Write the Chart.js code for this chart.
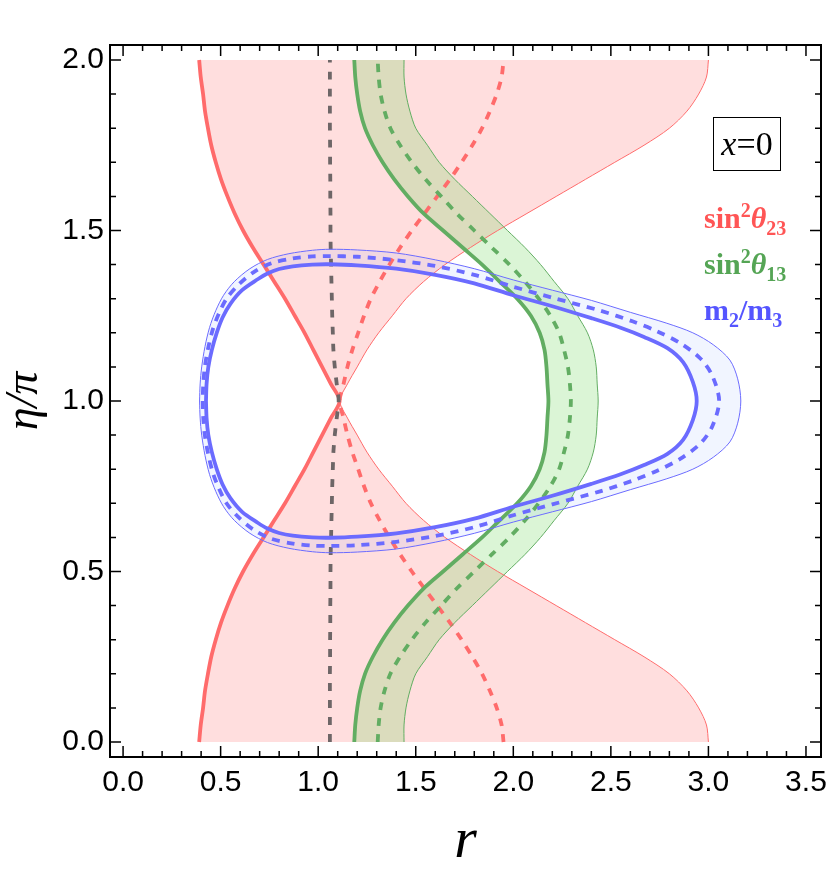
<!DOCTYPE html>
<html><head><meta charset="utf-8">
<script src="https://cdn.jsdelivr.net/npm/chart.js@4.4.0/dist/chart.umd.min.js"></script>
<style>
html,body{margin:0;padding:0;background:#fff;}
#wrap{position:relative;width:838px;height:880px;overflow:hidden;}
#c{position:absolute;left:0;top:0;}
.lab{position:absolute;left:704px;font-family:'Liberation Serif','Times New Roman',serif;font-weight:bold;font-size:30px;line-height:30px;white-space:nowrap;}
.lab sup,.lab sub{font-size:20px;line-height:0;}
.lab i{font-weight:bold;}
#xbox{position:absolute;left:713px;top:117px;width:66px;height:52px;border:1.5px solid #000;font-family:'Liberation Serif','Times New Roman',serif;font-size:34px;line-height:52px;text-align:center;color:#000;}
</style></head>
<body><div id="wrap"><canvas id="c" width="838" height="880"></canvas>
<div id="xbox"><i>x</i>=0</div>
<div class="lab" style="top:203px;color:#ff5555">sin<sup>2</sup><i>θ</i><sub>23</sub></div>
<div class="lab" style="top:249px;color:#55a555">sin<sup>2</sup><i>θ</i><sub>13</sub></div>
<div class="lab" style="top:295px;color:#5555ff">m<sub>2</sub>/m<sub>3</sub></div>
</div>
<script>
// ---- data ----
const eta = [0,0.05,0.1,0.15,0.2,0.25,0.3,0.35,0.4,0.45,0.5,0.55,0.6,0.65,0.7,0.75,0.8,0.85,0.9,0.95,1.0,
             1.05,1.1,1.15,1.2,1.25,1.3,1.35,1.4,1.45,1.5,1.55,1.6,1.65,1.7,1.75,1.8,1.85,1.9,1.95,2.0];
const redSolidR = [0.39,0.398,0.41,0.42,0.435,0.452,0.475,0.502,0.535,0.572,0.615,0.665,0.72,0.775,0.83,0.88,0.93,0.975,1.02,1.065,1.11,
                   1.065,1.02,0.975,0.93,0.88,0.83,0.775,0.72,0.665,0.615,0.572,0.535,0.502,0.475,0.452,0.435,0.42,0.41,0.398,0.39];
const redThinR = [3.00,2.99,2.95,2.89,2.80,2.67,2.52,2.37,2.22,2.07,1.92,1.78,1.65,1.54,1.45,1.38,1.31,1.25,1.20,1.15,1.11,
                  1.15,1.20,1.25,1.31,1.38,1.45,1.54,1.65,1.78,1.92,2.07,2.22,2.37,2.52,2.67,2.80,2.89,2.95,2.99,3.00];
const redDashR = [1.95,1.94,1.915,1.88,1.84,1.79,1.735,1.675,1.61,1.545,1.48,1.42,1.365,1.315,1.27,1.235,1.205,1.175,1.15,1.13,1.11,
                  1.13,1.15,1.175,1.205,1.235,1.27,1.315,1.365,1.42,1.48,1.545,1.61,1.675,1.735,1.79,1.84,1.88,1.915,1.94,1.95];
const grayDashR = [1.06,1.06,1.06,1.06,1.06,1.061,1.061,1.062,1.062,1.063,1.063,1.064,1.066,1.068,1.07,1.072,1.075,1.078,1.085,1.095,1.105,
                   1.095,1.085,1.078,1.075,1.072,1.07,1.068,1.066,1.064,1.063,1.063,1.062,1.062,1.061,1.061,1.06,1.06,1.06,1.06,1.06];
const greenSolidR = [1.185,1.19,1.20,1.215,1.24,1.28,1.33,1.39,1.46,1.54,1.64,1.74,1.84,1.93,2.02,2.09,2.135,2.16,2.17,2.175,2.18,
                     2.175,2.17,2.16,2.135,2.09,2.02,1.93,1.84,1.74,1.64,1.54,1.46,1.39,1.33,1.28,1.24,1.215,1.20,1.19,1.185];
const greenDashR = [1.305,1.31,1.32,1.34,1.37,1.42,1.48,1.55,1.63,1.71,1.80,1.89,1.98,2.06,2.13,2.19,2.235,2.26,2.28,2.29,2.295,
                    2.29,2.28,2.26,2.235,2.19,2.13,2.06,1.98,1.89,1.80,1.71,1.63,1.55,1.48,1.42,1.37,1.34,1.32,1.31,1.305];
const greenThinR = [1.44,1.44,1.45,1.47,1.50,1.56,1.62,1.70,1.79,1.88,1.97,2.06,2.14,2.21,2.28,2.33,2.38,2.41,2.425,2.43,2.435,
                    2.43,2.425,2.41,2.38,2.33,2.28,2.21,2.14,2.06,1.97,1.88,1.79,1.70,1.62,1.56,1.50,1.47,1.45,1.44,1.44];

const blueSolidR = [0.425,0.428,0.437,0.455,0.48,0.51,0.55,0.61,0.69,0.74,0.80,0.87,0.97,1.06,1.20,1.40,1.60,1.80,2.00,2.20,2.40,2.55,2.67,2.79,2.87,2.92,2.94,
                    2.92,2.87,2.79,2.67,2.55,2.40,2.20,2.00,1.80,1.60,1.40,1.20,1.06,0.97,0.87,0.80,0.74,0.69,0.61,0.55,0.51,0.48,0.455,0.437,0.428,0.425];
const blueSolidEta = [1.0,0.95,0.90,0.85,0.80,0.755,0.715,0.675,0.643,0.626,0.613,0.605,0.600,0.599,0.602,0.612,0.630,0.655,0.69,0.722,0.757,0.785,0.812,0.845,0.886,0.944,1.0,
                      1.056,1.114,1.155,1.188,1.215,1.243,1.278,1.31,1.345,1.37,1.388,1.398,1.401,1.40,1.395,1.387,1.374,1.357,1.325,1.285,1.245,1.20,1.15,1.10,1.05,1.0];
const blueDashR = [0.408,0.411,0.419,0.436,0.46,0.49,0.53,0.59,0.67,0.76,0.87,0.97,1.06,1.20,1.40,1.60,1.80,2.00,2.20,2.445,2.614,2.735,2.855,2.96,3.02,3.055,
                   3.02,2.96,2.855,2.735,2.614,2.445,2.20,2.00,1.80,1.60,1.40,1.20,1.06,0.97,0.87,0.76,0.67,0.59,0.53,0.49,0.46,0.436,0.419,0.411,0.408];
const blueDashEta = [1.0,0.95,0.90,0.845,0.79,0.745,0.70,0.66,0.622,0.596,0.582,0.576,0.575,0.577,0.587,0.604,0.630,0.665,0.697,0.735,0.767,0.795,0.83,0.876,0.926,1.0,
                     1.074,1.124,1.17,1.205,1.233,1.265,1.303,1.335,1.37,1.396,1.413,1.423,1.425,1.424,1.418,1.404,1.378,1.34,1.30,1.255,1.21,1.155,1.10,1.05,1.0];
const blueThinR = [0.392,0.395,0.403,0.42,0.443,0.475,0.515,0.57,0.65,0.74,0.85,0.97,1.06,1.20,1.40,1.60,1.80,2.00,2.20,2.40,2.60,2.787,2.92,3.025,3.11,3.15,3.166,
                   3.15,3.11,3.025,2.92,2.787,2.60,2.40,2.20,2.00,1.80,1.60,1.40,1.20,1.06,0.97,0.85,0.74,0.65,0.57,0.515,0.475,0.443,0.42,0.403,0.395,0.392];
const blueThinEta = [1.0,0.95,0.90,0.84,0.785,0.735,0.69,0.65,0.612,0.585,0.568,0.558,0.555,0.557,0.566,0.586,0.612,0.645,0.675,0.705,0.74,0.772,0.80,0.835,0.88,0.935,1.0,
                     1.065,1.12,1.165,1.20,1.228,1.26,1.295,1.325,1.355,1.388,1.414,1.434,1.443,1.445,1.442,1.432,1.415,1.388,1.35,1.31,1.265,1.215,1.16,1.10,1.05,1.0];

const xTickValues = [0,0.5,1.0,1.5,2.0,2.5,3.0,3.5];
const xTickLabels = ['0.0','0.5','1.0','1.5','2.0','2.5','3.0','3.5'];
const yTickValues = [0,0.5,1.0,1.5,2.0];
const yTickLabels = ['0.0','0.5','1.0','1.5','2.0'];

// ---- build ----
const pts = (rs, es) => rs.map((r,i)=>({x:r, y:es[i]}));
const band = (left, right) => pts(left, eta).concat(pts(right, eta).reverse());
const ring = (outR, outE, inR, inE) => pts(outR, outE).concat(pts(inR, inE).reverse());

const RED='#ff6b6b', GREEN='#62ad62', BLUE='#6b6bff', GRAY='#6e6667';
function lineDS(data, color, width, dash, order){
  return {data, borderColor:color, borderWidth:width, borderDash:dash||[], fill:false,
          pointRadius:0, tension:0.3, order, borderCapStyle:'butt'};
}
function fillDS(data, color, order){
  return {data, backgroundColor:color, borderColor:'rgba(0,0,0,0)', borderWidth:0,
          fill:'shape', pointRadius:0, tension:0, order};
}

const datasets = [
  fillDS(band(redSolidR, redThinR), 'rgba(255,80,80,0.19)', 30),
  fillDS(band(greenSolidR, greenThinR), 'rgba(110,215,90,0.25)', 29),
  fillDS(ring(blueThinR, blueThinEta, blueSolidR, blueSolidEta), 'rgba(120,160,255,0.10)', 28),
  lineDS(pts(redThinR, eta), RED, 1, null, 20),
  lineDS(pts(redSolidR, eta), RED, 3.8, null, 19),
  lineDS(pts(redDashR, eta), RED, 3.8, [8,8], 18),
  lineDS(pts(grayDashR, eta), GRAY, 3.8, [8,9], 17),
  lineDS(pts(greenThinR, eta), GREEN, 1, null, 16),
  lineDS(pts(greenSolidR, eta), GREEN, 3.8, null, 15),
  lineDS(pts(greenDashR, eta), GREEN, 3.8, [8,8], 14),
  lineDS(pts(blueThinR, blueThinEta), BLUE, 1, null, 13),
  lineDS(pts(blueSolidR, blueSolidEta), BLUE, 3.8, null, 12),
  lineDS(pts(blueDashR, blueDashEta), BLUE, 3.8, [8,7], 11)
];

const frameTicks = {
  id:'frameTicks',
  afterDatasetsDraw(chart){
    const {ctx, chartArea:a, scales:{x, y}} = chart;
    ctx.save();
    ctx.strokeStyle = '#000';
    ctx.lineWidth = 1.5;
    ctx.beginPath();
    for (let i = 0; i <= 35; i++) {
      const px = x.getPixelForValue(i/10);
      const len = (i % 5 === 0) ? 11 : 6;
      ctx.moveTo(px, a.bottom); ctx.lineTo(px, a.bottom - len);
      ctx.moveTo(px, a.top); ctx.lineTo(px, a.top + len);
    }
    for (let i = 0; i <= 20; i++) {
      const py = y.getPixelForValue(i/10);
      const len = (i % 5 === 0) ? 11 : 6;
      ctx.moveTo(a.left, py); ctx.lineTo(a.left + len, py);
      ctx.moveTo(a.right, py); ctx.lineTo(a.right - len, py);
    }
    ctx.stroke();
    ctx.lineWidth = 2;
    ctx.strokeRect(a.left, a.top, a.right - a.left, a.bottom - a.top);
    ctx.restore();
  }
};

new Chart(document.getElementById('c'), {
  type:'line',
  data:{datasets},
  plugins:[frameTicks],
  options:{
    responsive:false, animation:false, devicePixelRatio:1,
    layout:{padding:{top:45, right:17, left:0, bottom:0}},
    plugins:{legend:{display:false}, tooltip:{enabled:false}},
    scales:{
      x:{type:'linear', min:-0.067, max:3.577,
         grid:{display:false, drawTicks:false}, border:{display:false},
         afterBuildTicks:s=>{ s.ticks = xTickValues.map(v=>({value:v})); },
         afterFit:s=>{ s.height = 123; },
         ticks:{callback:(v,i)=>xTickLabels[i], font:{family:'Liberation Sans', size:30}, color:'#000', padding:8, maxRotation:0, autoSkip:false},
         title:{display:true, text:'r', color:'#000', font:{family:'Liberation Serif', style:'italic', size:58}, padding:{top:0, bottom:3}}},
      y:{type:'linear', min:-0.044, max:2.044,
         grid:{display:false, drawTicks:false}, border:{display:false},
         afterBuildTicks:s=>{ s.ticks = yTickValues.map(v=>({value:v})); },
         afterFit:s=>{ s.width = 110; },
         ticks:{callback:(v,i)=>yTickLabels[i], font:{family:'Liberation Sans', size:30}, color:'#000', padding:6, autoSkip:false},
         title:{display:true, text:'η/π', color:'#000', font:{family:'Liberation Serif', style:'italic', size:46}, padding:{top:-3, bottom:0}}}
    }
  }
});
</script>
</body></html>
